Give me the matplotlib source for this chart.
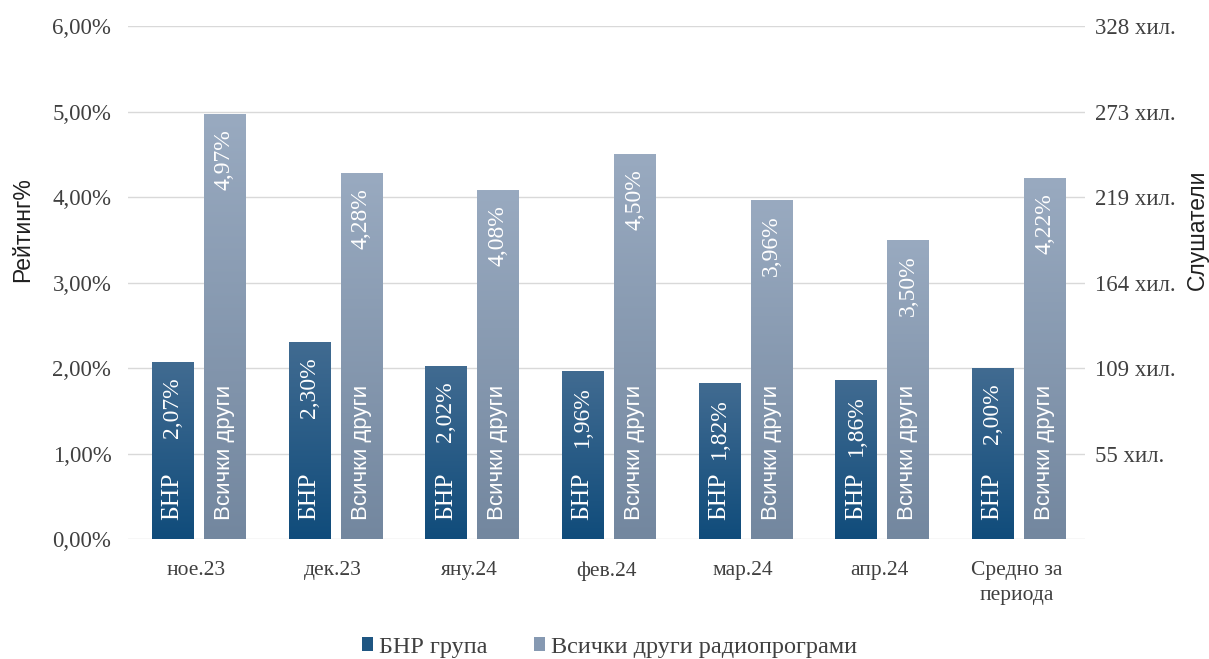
import matplotlib
matplotlib.use("Agg")
import matplotlib.pyplot as plt
import numpy as np
from matplotlib.colors import LinearSegmentedColormap
from matplotlib.patches import Patch

categories = ["ное.23", "дек.23", "яну.24", "фев.24", "мар.24", "апр.24", "Средно за\nпериода"]
bnr = [2.07, 2.30, 2.02, 1.96, 1.82, 1.86, 2.00]
others = [4.97, 4.28, 4.08, 4.50, 3.96, 3.50, 4.22]
series_names = ["БНР група", "Всички други радиопрограми"]
bar_names = ["БНР", "Всички други"]
left_ticks = [0, 1, 2, 3, 4, 5, 6]
right_labels = ["", "55 хил.", "109 хил.", "164 хил.", "219 хил.", "273 хил.", "328 хил."]

SERIF = ["Liberation Serif", "DejaVu Serif"]
SANS = ["Liberation Sans", "DejaVu Sans"]
TXT = "#404040"

fig = plt.figure(figsize=(12.09, 6.59), dpi=100)
ax = fig.add_axes([0.1059, 0.1821, 0.7915, 0.7784])

x = np.arange(len(categories))
w = 0.30
off = 0.19
b1 = ax.bar(x - off + 0.015, bnr, w, color="#285f8a", zorder=2)
b2 = ax.bar(x + off + 0.015, others, w, color="#869ab3", zorder=2)

cm1 = LinearSegmentedColormap.from_list("c1", ["#104c7b", "#416b91"])
cm2 = LinearSegmentedColormap.from_list("c2", ["#73879f", "#99aac0"])
grad = np.linspace(0, 1, 256).reshape(-1, 1)
for bars, cm in ((b1, cm1), (b2, cm2)):
    for p in bars:
        x0, y0, bw, bh = p.get_x(), p.get_y(), p.get_width(), p.get_height()
        im = ax.imshow(grad, cmap=cm, origin="lower", aspect="auto",
                       extent=(x0, x0 + bw, y0, y0 + bh), zorder=3)
        im.set_clip_path(p)

ax.set_xlim(-0.5, len(categories) - 0.5)
ax.set_ylim(0, 6)
ax.set_yticks(left_ticks)
ax.set_yticklabels([f"{v:.2f}%".replace(".", ",") for v in left_ticks],
                   fontfamily=SERIF, fontsize=16.5, color=TXT)
ax.set_xticks(x)
ax.set_xticklabels(categories, fontfamily=SERIF, fontsize=15.5, color=TXT, linespacing=1.4)
ax.tick_params(axis="both", length=0)
ax.tick_params(axis="y", pad=12)
ax.tick_params(axis="x", pad=16)
ax.grid(axis="y", color="#d9d9d9", linewidth=1, zorder=0)
for s in ax.spines.values():
    s.set_visible(False)
ax.set_axisbelow(True)

ax2 = ax.twinx()
ax2.set_ylim(0, 6)
ax2.set_yticks(left_ticks)
ax2.set_yticklabels(right_labels, fontfamily=SERIF, fontsize=16.5, color=TXT)
ax2.tick_params(axis="y", length=0, pad=7)
for s in ax2.spines.values():
    s.set_visible(False)

# data labels
for bars, vals, name, fam, fs in ((b1, bnr, bar_names[0], SERIF, 18.5),
                                  (b2, others, bar_names[1], SANS, 16)):
    for p, v in zip(bars, vals):
        cx = p.get_x() + p.get_width() / 2
        ax.annotate(name, (cx, 0), xytext=(0, 14), textcoords="offset points",
                    rotation=90, ha="center", va="bottom", color="white",
                    fontfamily=fam, fontsize=fs, zorder=5)
        ax.annotate(f"{v:.2f}%".replace(".", ","), (cx, v), xytext=(0, -11),
                    textcoords="offset points", rotation=90, ha="center", va="top",
                    color="white", fontfamily=SERIF, fontsize=17, zorder=5)

fig.text(0.019, 0.652, "Рейтинг%", rotation=90, ha="center", va="center",
         fontfamily=SANS, fontsize=16.5, color="#202020")
fig.text(0.99, 0.652, "Слушатели", rotation=90, ha="center", va="center",
         fontfamily=SANS, fontsize=16.5, color="#202020")

handles = [Patch(facecolor="#1f5682"), Patch(facecolor="#8699b2")]
fig.legend(handles, series_names, loc="center", bbox_to_anchor=(0.504, 0.018),
           ncol=2, frameon=False, prop={"family": SERIF, "size": 17.5},
           handlelength=0.45, handleheight=0.45, handletextpad=0.25, columnspacing=1.9,
           labelcolor=TXT)

fig.savefig("out.png", dpi=100)
